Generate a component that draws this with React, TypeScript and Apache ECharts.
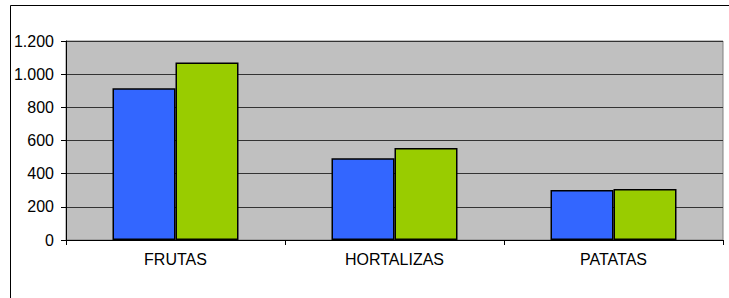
import React, { useEffect, useRef } from "react";
import * as echarts from "echarts";

const categories = ["FRUTAS", "HORTALIZAS", "PATATAS"];
const seriesA = [915, 493, 302];
const seriesB = [1070, 555, 307];

export default function App() {
  const ref = useRef<HTMLDivElement>(null);
  useEffect(() => {
    const chart = echarts.init(ref.current!, null, { renderer: "svg" });
    chart.setOption({
      animation: false,
      backgroundColor: "#ffffff",
      textStyle: { fontFamily: "Liberation Sans, Arial, sans-serif" },
      graphic: [
        {
          type: "rect",
          shape: { x: 10.5, y: 5.5, width: 740, height: 320 },
          style: { fill: "none", stroke: "#000", lineWidth: 1 },
          silent: true,
        },
      ],
      grid: {
        left: 66,
        top: 41,
        right: 6,
        bottom: 58,
        show: true,
        backgroundColor: "#C0C0C0",
        borderColor: "#808080",
        borderWidth: 1,
      },
      xAxis: {
        type: "category",
        data: categories,
        axisLine: { lineStyle: { color: "#000", width: 1 } },
        axisTick: { show: true, length: 5, alignWithLabel: false, lineStyle: { color: "#000" } },
        axisLabel: { color: "#000", fontSize: 16, margin: 11 },
      },
      yAxis: {
        type: "value",
        min: 0,
        max: 1200,
        interval: 200,
        axisLine: { show: true, lineStyle: { color: "#000", width: 1 } },
        axisTick: { show: true, length: 5, lineStyle: { color: "#000" } },
        axisLabel: {
          color: "#000",
          fontSize: 16,
          margin: 12,
          formatter: (v: number) => v.toLocaleString("de-DE"),
        },
        splitLine: { show: true, lineStyle: { color: "#333333", width: 1 } },
      },
      series: [
        {
          type: "bar",
          data: seriesA,
          barWidth: 63,
          barGap: "0%",
          itemStyle: { color: "#3366FF", borderColor: "#000", borderWidth: 1.5 },
        },
        {
          type: "bar",
          data: seriesB,
          barWidth: 63,
          itemStyle: { color: "#99CC00", borderColor: "#000", borderWidth: 1.5 },
        },
      ],
    });
    return () => chart.dispose();
  }, []);
  return (
    <div
      ref={ref}
      style={{ position: "absolute", left: 0, top: 0, width: 729, height: 298 }}
    />
  );
}
